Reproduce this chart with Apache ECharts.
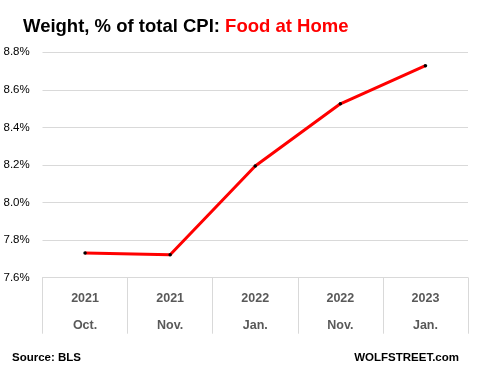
<!DOCTYPE html>
<html><head><meta charset="utf-8">
<script src="https://cdn.jsdelivr.net/npm/echarts@6/dist/echarts.min.js"></script>
<style>html,body{margin:0;padding:0;background:#fff}#c{width:481px;height:372px}</style>
</head><body><div id="c"></div>
<script>
const years = ['2021','2021','2022','2022','2023'];
const months = ['Oct.','Nov.','Jan.','Nov.','Jan.'];
const weights = [7.732, 7.722, 8.195, 8.526, 8.729];
const yTicks = [7.6, 7.8, 8.0, 8.2, 8.4, 8.6, 8.8];

const categories = years.map((y, i) => y + '\n' + months[i]);
const chart = echarts.init(document.getElementById('c'));
const F = '"Liberation Sans", Arial, sans-serif';
chart.setOption({
  animation: false,
  backgroundColor: '#fff',
  textStyle: {fontFamily: F},
  title: [{
    text: '{b|Weight, % of total CPI: }{r|Food at Home}',
    left: 23, top: 17, padding: 0,
    textStyle: {rich: {
      b: {fontFamily: F, fontSize: 18.5, fontWeight: 'bold', color: '#000'},
      r: {fontFamily: F, fontSize: 18.5, fontWeight: 'bold', color: '#ff0000'}
    }}
  }, {
    text: 'Source: BLS', left: 12, top: 352, padding: 0,
    textStyle: {fontFamily: F, fontSize: 11.5, fontWeight: 'bold', color: '#000'}
  }, {
    text: 'WOLFSTREET.com', right: 22, top: 352, padding: 0,
    textStyle: {fontFamily: F, fontSize: 11.5, fontWeight: 'bold', color: '#000'}
  }],
  grid: {left: 42.5, right: 13, top: 52.3, bottom: 372 - 277.7, containLabel: false},
  xAxis: {
    type: 'category', data: categories, boundaryGap: true,
    axisLine: {show: true, lineStyle: {color: '#d9d9d9', width: 1}},
    axisTick: {show: true, length: 56, alignWithLabel: false, lineStyle: {color: '#d9d9d9'}},
    axisLabel: {fontFamily: F, fontSize: 12.5, fontWeight: 'bold', color: '#595959', lineHeight: 27, margin: 7},
    splitLine: {show: false}
  },
  yAxis: {
    type: 'value', min: yTicks[0], max: yTicks[yTicks.length - 1], interval: 0.2,
    axisLine: {show: false}, axisTick: {show: false},
    splitLine: {lineStyle: {color: '#d9d9d9', width: 1}},
    axisLabel: {fontFamily: F, fontSize: 11.5, color: '#000', align: 'left', margin: 39,
      formatter: v => v.toFixed(1) + '%'}
  },
  series: [{
    type: 'line', data: weights,
    lineStyle: {color: '#ff0000', width: 3},
    itemStyle: {color: '#000'},
    symbol: 'circle', symbolSize: 3.5, showSymbol: true
  }]
});
</script></body></html>
